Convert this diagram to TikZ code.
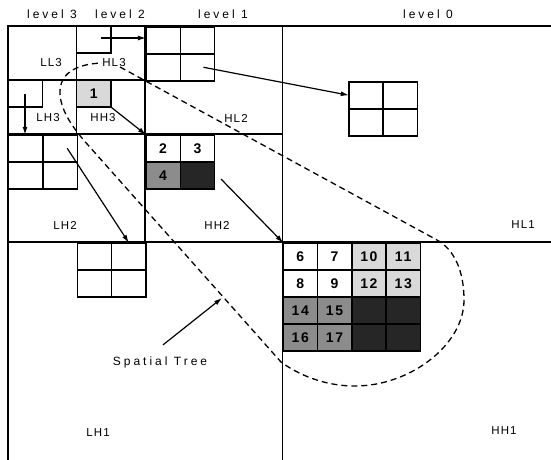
\documentclass[tikz,border=0pt]{standalone}
\usepackage{fontspec}
\newfontfamily\lblfont[LetterSpace=10]{Liberation Sans}
\newfontfamily\lvlfont[LetterSpace=25]{Liberation Sans}
\newfontfamily\numfont[LetterSpace=12]{Liberation Sans}
\usetikzlibrary{arrows.meta,matrix}

\begin{document}
\begin{tikzpicture}[
  x=1pt, y=-1pt,
  band/.style={line width=1.5pt},
  cell/.style={draw,line width=1.5pt,minimum width=34.3pt,minimum height=27pt,inner sep=0pt,outer sep=0pt,anchor=center,font=\fontsize{14}{14}\numfont\bfseries},
  lite/.style={cell,fill=black!15},
  mid/.style={cell,fill=black!45},
  dark/.style={cell,fill=black!85},
  cellgrid/.style={anchor=north west,column sep=-1.5pt,row sep=-1.5pt,inner sep=0pt,outer sep=0pt},
  bandlbl/.style={font=\fontsize{11.5}{11.5}\lblfont},
  lvl/.style={font=\fontsize{12}{12}\lvlfont},
  arr/.style={line width=1.2pt,-{Latex[length=8pt,width=5pt]}},
  tree/.style={line width=1.3pt,dash pattern=on 6pt off 4pt}
]
\useasboundingbox (0,0) rectangle (551,459);
\clip (0,0) rectangle (551,459);

% level headings
\node[lvl] (lv3) at (52,14) {level 3};
\node[lvl] (lv2) at (120,14) {level 2};
\node[lvl] (lv1) at (223,14) {level 1};
\node[lvl] (lv0) at (428,14) {level 0};

% subband frame
\draw[band] (8,470) -- (8,26) -- (560,26);
\draw[band] (282.4,26) -- (282.4,470);
\draw[band] (8,242) -- (560,242);
\draw[band] (145.2,26) -- (145.2,242);
\draw[band] (8,134) -- (282.4,134);
\draw[band] (76.6,26) -- (76.6,134);
\draw[band] (8,80) -- (145.2,80);
\draw[band] (76.6,53) -| (110.9,26);
\draw[band] (8,107) -| (42.3,80);

% coefficient blocks
\node[lite,anchor=north west] (c1) at (76.6,80) {1};
\matrix (hl2) [cellgrid] at (145.2,26) {
  \node[cell] (hl2a) {}; & \node[cell] (hl2b) {}; \\
  \node[cell] (hl2c) {}; & \node[cell] (hl2d) {}; \\
};
\matrix (lh2) [cellgrid] at (8,134) {
  \node[cell] (lh2a) {}; & \node[cell] (lh2b) {}; \\
  \node[cell] (lh2c) {}; & \node[cell] (lh2d) {}; \\
};
\matrix (hh2) [cellgrid] at (145.2,134) {
  \node[cell] (hh2a) {2}; & \node[cell] (hh2b) {3}; \\
  \node[mid] (hh2c) {4}; & \node[dark] (hh2d) {}; \\
};
\matrix (l0) [cellgrid] at (348,81) {
  \node[cell] (l0a) {}; & \node[cell] (l0b) {}; \\
  \node[cell] (l0c) {}; & \node[cell] (l0d) {}; \\
};
\matrix (lh1) [cellgrid] at (76.6,242) {
  \node[cell] (lh1a) {}; & \node[cell] (lh1b) {}; \\
  \node[cell] (lh1c) {}; & \node[cell] (lh1d) {}; \\
};
\matrix (hh1) [cellgrid] at (282.4,242) {
  \node[cell] (hh1a) {6}; & \node[cell] {7}; & \node[lite] {10}; & \node[lite] {11}; \\
  \node[cell] {8}; & \node[cell] {9}; & \node[lite] {12}; & \node[lite] {13}; \\
  \node[mid] {14}; & \node[mid] {15}; & \node[dark] {}; & \node[dark] {}; \\
  \node[mid] {16}; & \node[mid] {17}; & \node[dark] {}; & \node[dark] {}; \\
};

% subband names
\node[bandlbl] (ll3) at (51,63) {LL3};
\node[bandlbl] (hl3) at (114,63) {HL3};
\node[bandlbl] (lh3) at (48,118) {LH3};
\node[bandlbl] (hh3) at (103,118) {HH3};
\node[bandlbl] (hl2n) at (236,118) {HL2};
\node[bandlbl] (lh2n) at (65,225) {LH2};
\node[bandlbl] (hh2n) at (217,225) {HH2};
\node[bandlbl] (hl1) at (523,225) {HL1};
\node[bandlbl] (lh1n) at (98,433) {LH1};
\node[bandlbl] (hh1n) at (504,431) {HH1};

% parent -> children
\coordinate (hl3s) at (101,38);
\coordinate (lh3s) at (25,94);
\coordinate (hh2s) at (221,179);
\draw[arr] (hl3s) -- (hl3s -| hl2a.west);
\draw[arr] (lh3s) -- (lh3s |- lh2a.north);
\draw[arr] (c1.south east) -- (hh2a.north west);
\draw[arr] ([xshift=6pt]hl2d.center) -- (l0a.west);
\draw[arr] ([xshift=7pt]lh2b.center) -- (lh1b.north);
\draw[arr] (hh2s) -- (hh1a.north west);

% spatial tree outline
\draw[tree] (120,67) -- (437,240) .. controls (455,250) and (464,272) .. (464,300)
  .. controls (464,345) and (410,386) .. (355,386) .. controls (322,386) and (296,373) .. (281,362)
  -- (88,145) .. controls (70,125) and (60,108) .. (60,92) .. controls (60,74) and (75,64) .. (102,63);
\node[lvl] (st) at (160,362) {Spatial Tree};
\coordinate (tip) at (222,298);
\draw[arr] ([shift={(3,-8)}]st.north) -- (tip);
\end{tikzpicture}
\end{document}
